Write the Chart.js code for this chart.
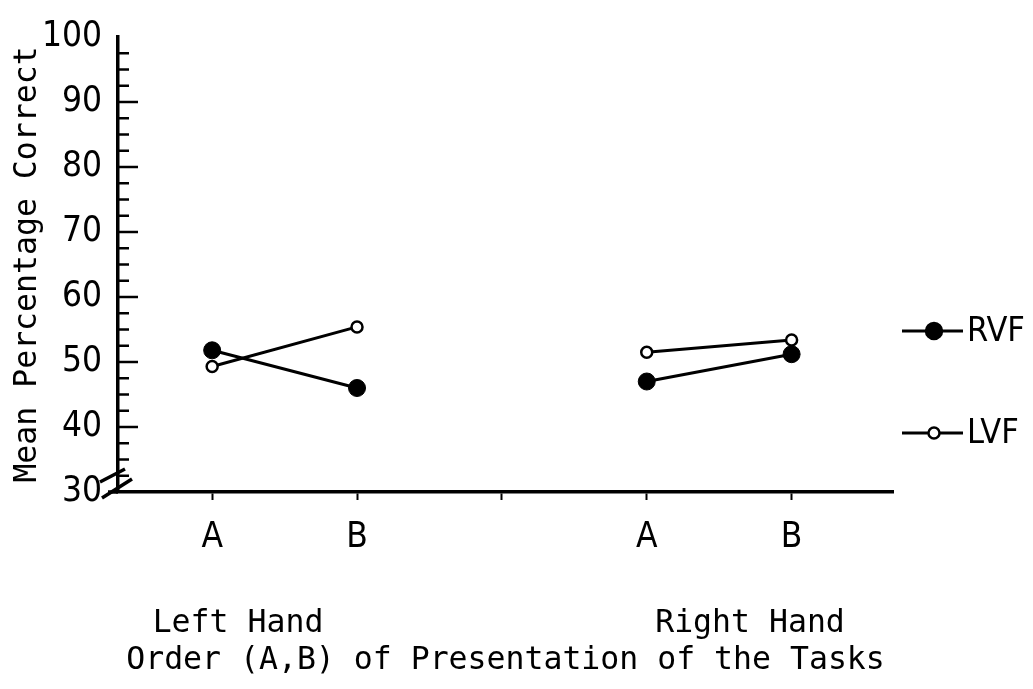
<!DOCTYPE html>
<html>
<head>
<meta charset="utf-8">
<script src="https://cdn.jsdelivr.net/npm/chart.js@4"></script>
<style>
  html, body { margin: 0; padding: 0; background: #fff; }
  #wrap { width: 1033px; height: 689px; }
</style>
</head>
<body>
<div id="wrap"><canvas id="chart" width="1033" height="689"></canvas></div>
<script>
// === Data ===
var xPositions = [1, 2, 3, 4, 5];
var xTickLabels = ['A', 'B', '', 'A', 'B'];
var handLabels = ['Left Hand', 'Right Hand'];
var rvfValues = [51.8, 46.0, null, 47.0, 51.2];
var lvfValues = [49.3, 55.4, null, 51.5, 53.4];
var yTicks = [30, 40, 50, 60, 70, 80, 90, 100];
var seriesNames = ['RVF', 'LVF'];

var INK = '#000';
var NARROW = '"DejaVu Sans Condensed", "DejaVu Sans", sans-serif';
var MONO = '"DejaVu Sans Mono", "Liberation Mono", monospace';

function toPoints(vals) {
  return xPositions.map(function(x, i) { return { x: x, y: vals[i] }; });
}

// --- axis decorations: inward y ticks, axis break, group labels, legend ---
var decorPlugin = {
  id: 'decor',
  afterDraw: function(chart) {
    var ctx = chart.ctx;
    var y = chart.scales.y;
    var left = chart.chartArea.left;
    ctx.save();
    ctx.strokeStyle = INK;
    ctx.fillStyle = INK;

    // y ticks, pointing into the plot
    ctx.lineWidth = 2.5;
    for (var v = 32.5; v < 100; v += 2.5) {
      var py = y.getPixelForValue(v);
      var major = Math.abs(v % 10) < 0.01;
      ctx.beginPath();
      ctx.moveTo(left, py);
      ctx.lineTo(left + (major ? 20 : 11), py);
      ctx.stroke();
    }

    // axis break
    var by = y.getPixelForValue(30);
    ctx.lineWidth = 3.5;
    ctx.beginPath();
    ctx.moveTo(left - 18, by - 10); ctx.lineTo(left + 7, by - 23);
    ctx.moveTo(left - 16, by + 6); ctx.lineTo(left + 14, by - 13);
    ctx.stroke();
    ctx.beginPath();
    ctx.moveTo(left - 10, by); ctx.lineTo(left, by);
    ctx.stroke();

    // group labels
    ctx.font = '31.5px ' + MONO;
    ctx.textAlign = 'center';
    ctx.textBaseline = 'middle';
    ctx.fillText(handLabels[0], 238, 624);
    ctx.fillText(handLabels[1], 750, 624);

    // legend
    var items = [
      { y: 331, fill: true, r: 8 },
      { y: 433, fill: false, r: 5.5 }
    ];
    items.forEach(function(it, i) {
      ctx.lineWidth = 3;
      ctx.beginPath();
      ctx.moveTo(902, it.y); ctx.lineTo(963, it.y);
      ctx.stroke();
      ctx.beginPath();
      ctx.arc(934, it.y, it.r, 0, Math.PI * 2);
      ctx.fillStyle = it.fill ? INK : '#fff';
      ctx.fill();
      ctx.lineWidth = 2.5;
      ctx.stroke();
      ctx.fillStyle = INK;
      ctx.font = '34px ' + NARROW;
      ctx.textAlign = 'left';
      ctx.fillText(seriesNames[i], 967, it.y + 1);
    });
    ctx.restore();
  }
};

var ctx = document.getElementById('chart').getContext('2d');
new Chart(ctx, {
  type: 'line',
  data: {
    datasets: [{
      label: seriesNames[0],
      data: toPoints(rvfValues),
      borderColor: INK,
      backgroundColor: INK,
      borderWidth: 3,
      pointRadius: 8.5,
      pointBackgroundColor: INK,
      pointBorderColor: INK,
      pointBorderWidth: 1,
      spanGaps: false,
      tension: 0
    }, {
      label: seriesNames[1],
      data: toPoints(lvfValues),
      borderColor: INK,
      backgroundColor: '#fff',
      borderWidth: 3,
      pointRadius: 5.5,
      pointBackgroundColor: '#fff',
      pointBorderColor: INK,
      pointBorderWidth: 2.5,
      spanGaps: false,
      tension: 0
    }]
  },
  options: {
    responsive: false,
    animation: false,
    events: [],
    layout: { padding: { top: 32, right: 140, left: 0, bottom: 0 } },
    plugins: {
      legend: { display: false },
      tooltip: { enabled: false }
    },
    scales: {
      x: {
        type: 'linear',
        min: 0.35,
        max: 5.7,
        afterBuildTicks: function(s) {
          s.ticks = xPositions.map(function(p) { return { value: p }; });
        },
        afterFit: function(s) { s.height = 197; },
        border: { display: true, color: INK, width: 3.5 },
        grid: {
          display: true,
          drawOnChartArea: false,
          drawTicks: true,
          tickLength: 8,
          tickWidth: 2,
          color: INK
        },
        ticks: {
          color: INK,
          font: { family: NARROW, size: 35 },
          padding: 17,
          maxRotation: 0,
          callback: function(val) {
            var i = xPositions.indexOf(val);
            return i >= 0 ? xTickLabels[i] : '';
          }
        },
        title: {
          display: true,
          text: 'Order (A,B) of Presentation of the Tasks',
          color: INK,
          font: { family: MONO, size: 31.5 },
          padding: { top: 0, bottom: 9 }
        }
      },
      y: {
        min: 30,
        max: 100,
        afterBuildTicks: function(s) {
          s.ticks = yTicks.map(function(v) { return { value: v }; });
        },
        afterFit: function(s) { s.width = 118; },
        border: { display: true, color: INK, width: 3.5 },
        grid: { display: false, drawTicks: false },
        ticks: {
          color: INK,
          font: { family: NARROW, size: 35 },
          padding: 16
        },
        title: {
          display: true,
          text: 'Mean Percentage Correct',
          color: INK,
          font: { family: MONO, size: 31.5 },
          padding: { top: 9, bottom: 0 }
        }
      }
    }
  },
  plugins: [decorPlugin]
});
</script>
</body>
</html>
